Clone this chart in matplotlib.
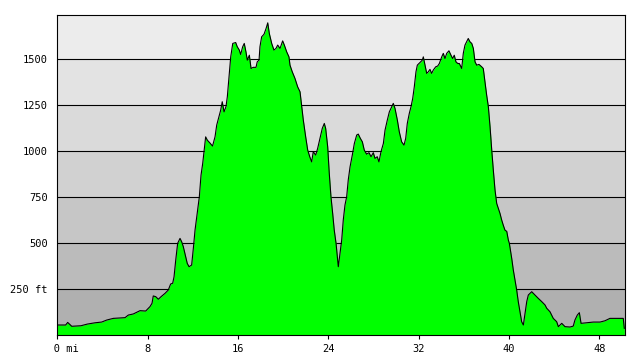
import matplotlib
matplotlib.use("Agg")
import matplotlib.pyplot as plt
import numpy as np

# distance along route (mi) and elevation (ft)
distance_mi = [
    0.00, 0.74, 0.92, 1.28, 2.10, 2.66, 3.34, 3.93, 4.38, 4.96, 6.00, 6.29, 6.73, 7.33, 7.83,
    8.21, 8.39, 8.50, 8.72, 8.95, 9.19, 9.54, 9.83, 10.04, 10.22, 10.34, 10.49, 10.66, 10.87,
    11.02, 11.16, 11.34, 11.51, 11.67, 11.90, 12.05, 12.20, 12.35, 12.58, 12.73, 12.88, 12.99,
    13.14, 13.29, 13.53, 13.75, 13.97, 14.12, 14.32, 14.47, 14.61, 14.77, 14.94, 15.06, 15.21,
    15.36, 15.54, 15.80, 15.94, 16.12, 16.24, 16.42, 16.56, 16.71, 16.83, 17.01, 17.16, 17.36,
    17.60, 17.71, 17.87, 17.95, 18.10, 18.31, 18.49, 18.64, 18.78, 18.99, 19.19, 19.37, 19.52,
    19.73, 19.96, 20.11, 20.32, 20.52, 20.61, 20.81, 21.05, 21.29, 21.50, 21.65, 21.79, 22.00,
    22.18, 22.36, 22.53, 22.67, 22.89, 23.06, 23.27, 23.47, 23.65, 23.77, 23.95, 24.09, 24.24,
    24.39, 24.53, 24.69, 24.80, 24.89, 25.04, 25.19, 25.33, 25.48, 25.63, 25.77, 25.93, 26.13,
    26.31, 26.52, 26.66, 26.84, 27.02, 27.19, 27.40, 27.61, 27.79, 27.99, 28.14, 28.34, 28.49,
    28.67, 28.88, 29.03, 29.23, 29.41, 29.62, 29.76, 29.91, 30.12, 30.29, 30.50, 30.71, 30.86,
    31.00, 31.18, 31.33, 31.48, 31.62, 31.77, 31.89, 32.04, 32.19, 32.33, 32.42, 32.57, 32.72,
    32.86, 33.01, 33.16, 33.30, 33.52, 33.69, 33.84, 34.05, 34.19, 34.34, 34.49, 34.69, 34.87,
    35.02, 35.16, 35.31, 35.47, 35.61, 35.82, 35.96, 36.11, 36.26, 36.40, 36.55, 36.71, 36.85,
    37.00, 37.15, 37.35, 37.59, 37.73, 37.88, 38.03, 38.18, 38.33, 38.48, 38.62, 38.77, 38.92,
    39.06, 39.21, 39.36, 39.50, 39.65, 39.81, 39.95, 40.04, 40.25, 40.39, 40.54, 40.69, 40.83,
    40.98, 41.13, 41.28, 41.43, 41.58, 41.72, 42.02, 42.31, 42.60, 42.91, 43.20, 43.35, 43.64,
    43.93, 44.23, 44.38, 44.68, 44.97, 45.41, 45.70, 45.85, 46.06, 46.24, 46.39, 46.89, 47.48,
    48.07, 48.51, 48.95, 49.55, 50.13, 50.22,
]
elevation_ft = [
    56, 56, 70, 49, 52, 61, 68, 72, 83, 92, 96, 110, 116, 134, 132,
    156, 174, 214, 210, 196, 210, 228, 246, 279, 283, 318, 409, 500, 527,
    508, 482, 436, 391, 373, 382, 473, 572, 645, 753, 871, 935, 998,
    1079, 1061, 1045, 1029, 1079, 1143, 1188, 1224, 1270, 1215, 1243, 1297, 1406,
    1514, 1587, 1592, 1569, 1551, 1527, 1569, 1587, 1541, 1496, 1523, 1451, 1457,
    1457, 1487, 1496, 1569, 1623, 1637, 1668, 1699, 1641, 1587, 1551, 1560, 1578,
    1560, 1601, 1578, 1541, 1514, 1469, 1433, 1397, 1351, 1324, 1243, 1170, 1079,
    1007, 971, 943, 998, 980, 1016, 1071, 1125, 1152, 1125, 1025, 880, 753,
    663, 572, 500, 427, 373, 446, 518, 627, 708, 753, 844, 916, 980,
    1043, 1089, 1094, 1071, 1052, 1007, 985, 993, 971, 993, 962, 971, 943,
    998, 1043, 1116, 1170, 1215, 1243, 1261, 1234, 1170, 1107, 1052, 1034, 1071,
    1152, 1207, 1243, 1288, 1351, 1433, 1469, 1478, 1487, 1496, 1514, 1469, 1424,
    1433, 1446, 1424, 1442, 1460, 1464, 1478, 1514, 1533, 1505, 1533, 1547, 1523,
    1505, 1523, 1487, 1478, 1478, 1451, 1533, 1578, 1596, 1614, 1596, 1587, 1560,
    1487, 1469, 1473, 1460, 1451, 1378, 1306, 1243, 1134, 1007, 898, 790, 717,
    690, 663, 627, 599, 572, 565, 518, 500, 418, 355, 300, 246, 183,
    128, 74, 56, 120, 183, 219, 237, 219, 201, 183, 165, 147, 128,
    92, 74, 47, 65, 47, 45, 50, 83, 110, 123, 65, 68, 72,
    72, 79, 92, 92, 92, 38,
]

x_ticks = [0, 8, 16, 24, 32, 40, 48]
x_tick_labels = ["   0 mi", "8", "16", "24", "32", "40", "48"]
y_ticks = [250, 500, 750, 1000, 1250, 1500]
y_tick_labels = ["250 ft", "500", "750", "1000", "1250", "1500"]
band_edges = [0, 250, 500, 750, 1000, 1250, 1500, 1740]
band_colors = ["#b0b0b0", "#bbbbbb", "#c6c6c6", "#d1d1d1", "#dadada", "#e3e3e3", "#ececec"]

X_MAX = 50.31
Y_MAX = 1740

fig = plt.figure(figsize=(6.4, 3.6), dpi=100)
ax = fig.add_axes([57.3 / 640, 1 - 335.3 / 360, (625.3 - 57.3) / 640, (335.3 - 15.3) / 360])

for lo, hi, c in zip(band_edges[:-1], band_edges[1:], band_colors):
    ax.axhspan(lo, hi, color=c, lw=0, zorder=0)
for yv in y_ticks:
    ax.axhline(yv, color="black", lw=0.8, zorder=1)

x = np.array(distance_mi)
y = np.array(elevation_ft)
ax.fill_between(x, 0, y, color="#00ff00", lw=0, zorder=2)
ax.plot(x, y, color="black", lw=0.8, zorder=3)

ax.set_xlim(0, X_MAX)
ax.set_ylim(0, Y_MAX)

mono = "DejaVu Sans Mono"
ax.set_xticks(x_ticks)
ax.set_xticklabels(x_tick_labels, family=mono, fontsize=7.5)
ax.set_yticks(y_ticks)
ax.set_yticklabels(y_tick_labels, family=mono, fontsize=7.5)
ax.tick_params(axis="x", direction="out", length=3, width=0.8, pad=3, color="black")
ax.tick_params(axis="y", length=0, pad=7)

for s in ax.spines.values():
    s.set_color("black")
    s.set_linewidth(0.8)
    s.set_zorder(5)

fig.savefig("out.png", dpi=100, facecolor="white")
